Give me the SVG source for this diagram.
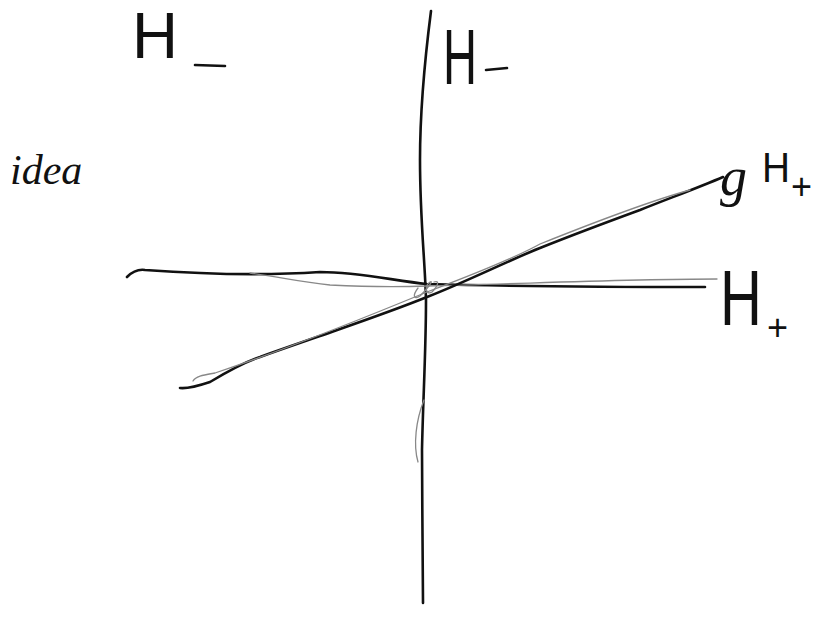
<svg xmlns="http://www.w3.org/2000/svg" width="827" height="619" viewBox="0 0 827 619">
<style>
.ink{fill:none;stroke:#111;stroke-width:2.6;stroke-linecap:round;stroke-linejoin:round}
.faint{fill:none;stroke:#888;stroke-width:1.3;stroke-linecap:round;stroke-linejoin:round}
.lbl{font-family:"Liberation Sans",Arial,sans-serif;fill:#111}
.cur{font-family:"Liberation Serif","Times New Roman",serif;font-style:italic;fill:#111}
</style>
<rect width="827" height="619" fill="#fff"/>
<g id="connectors">
<path id="axis-vertical" class="ink" d="M431,11 C426,50 420,110 420,160 C420,220 425,260 426,300 C426,350 423,400 422,450 C422,500 423,560 423,603"/>
<path class="faint" d="M424,400 C416,420 413,445 418,462"/>
<path id="axis-Hplus" class="ink" d="M127,277 C132,272 138,269 145,270 C200,274 260,276 320,272 C360,272 395,281 427,284 C500,286 600,287 705,287"/>
<path class="faint" d="M250,273 C280,277 300,282 330,285 C370,287 400,287 427,286 C520,284 620,279 717,279"/>
<path id="axis-gHplus" class="ink" d="M180,388 C188,389 198,386 210,382 C230,370 245,362 260,357 C285,348 300,343 320,336 C360,322 395,310 427,297 C470,280 505,262 540,248 C580,232 610,221 640,210 C670,198 700,187 723,177"/>
<path class="faint" d="M193,381 C196,376 204,375 215,373 C260,358 330,332 427,292 C480,272 520,255 540,244 C600,220 650,201 690,190"/>
<path class="faint" d="M418,288 C412,296 414,300 420,296 C428,288 434,280 430,282 C424,286 426,296 432,292 C438,286 440,280 434,282"/>
</g>
<g id="label-Hminus-left">
<text class="lbl" x="132" y="58" font-size="64" textLength="46" lengthAdjust="spacingAndGlyphs">H</text>
<path class="ink" d="M195,65 L225,66"/>
</g>
<g id="label-Hminus-axis">
<text class="lbl" x="443" y="84" font-size="78" textLength="34" lengthAdjust="spacingAndGlyphs">H</text>
<path class="ink" d="M486,70 L507,68"/>
</g>
<g id="label-idea">
<text class="cur" x="10" y="184" font-size="42">idea</text>
</g>
<g id="label-gHplus">
<text class="cur" x="720" y="195" font-size="54">g</text>
<text class="lbl" x="762" y="182" font-size="42" textLength="28" lengthAdjust="spacingAndGlyphs">H</text>
<text class="lbl" x="791" y="199" font-size="36">+</text>
</g>
<g id="label-Hplus">
<text class="lbl" font-size="58" transform="translate(720,325) scale(1,1.35)">H</text>
<text class="lbl" x="767" y="340" font-size="36">+</text>
</g>
</svg>
